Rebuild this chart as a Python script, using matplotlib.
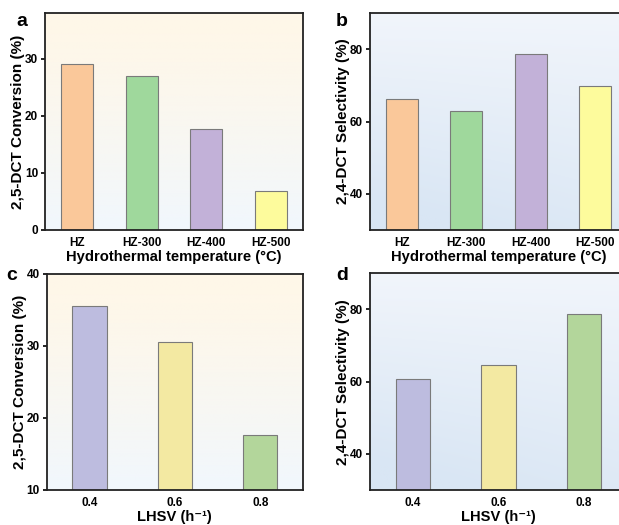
import numpy as np
import matplotlib
matplotlib.use("Agg")
import matplotlib.pyplot as plt
from matplotlib.colors import to_rgb

plt.rcParams['font.family'] = ['Liberation Sans', 'DejaVu Sans']
plt.rcParams['font.weight'] = 'bold'

# ── data ─────────────────────────────────────────
temp_labels = ['HZ', 'HZ-300', 'HZ-400', 'HZ-500']
temp_conv   = [29.1, 26.9, 17.6, 6.8]
temp_sel    = [66.3, 62.8, 78.6, 69.7]
temp_colors = ['#FAC89A', '#9FD89C', '#C2B1D8', '#FDFB9C']

lhsv_labels = ['0.4', '0.6', '0.8']
lhsv_conv   = [35.5, 30.5, 17.7]
lhsv_sel    = [60.7, 64.6, 78.6]
lhsv_colors = ['#BDBCDF', '#F3E9A2', '#B3D69B']

conv_label = '2,5-DCT Conversion (%)'
sel_label  = '2,4-DCT Selectivity (%)'
temp_xlabel = 'Hydrothermal temperature (°C)'
lhsv_xlabel = 'LHSV (h⁻¹)'

warm_bg = ('#FFF7E8', '#F1F7FD')   # top, bottom
cool_bg = ('#F1F5FB', '#D9E6F4')


def gradient(ax, top, bottom, diag=False):
    n = 200
    t = np.linspace(0, 1, n)
    if diag:
        yy, xx = np.meshgrid(t, t, indexing='ij')
        w = np.clip(0.8 * yy + 0.35 * (1 - xx) * yy, 0, 1)
    else:
        w = np.tile(t[:, None], (1, n))
        w = w ** 1.3
    c0, c1 = np.array(to_rgb(top)), np.array(to_rgb(bottom))
    img = c0[None, None, :] * (1 - w[..., None]) + c1[None, None, :] * w[..., None]
    ax.imshow(img, extent=[0, 1, 0, 1], transform=ax.transAxes,
              aspect='auto', zorder=0, origin='upper')


def panel(rect, labels, values, colors, ylim, yticks, ylabel, xlabel,
          width, bg, diag, letter, letter_xy):
    ax = fig.add_axes(rect)
    gradient(ax, *bg, diag=diag)
    x = np.arange(len(labels))
    ax.bar(x, values, width=width, color=colors, edgecolor='#7a7a7a',
           linewidth=0.8, zorder=2)
    ax.set_xlim(-0.5, len(labels) - 0.5)
    ax.set_ylim(*ylim)
    ax.set_yticks(yticks)
    ax.set_xticks(x)
    ax.set_xticklabels(labels)
    ax.tick_params(axis='x', length=0, pad=5, labelsize=8.5)
    ax.tick_params(axis='y', length=3, width=1.2, pad=2, labelsize=8.5)
    ax.set_ylabel(ylabel, fontsize=11, fontweight='bold', labelpad=0)
    ax.set_xlabel(xlabel, fontsize=10.6, fontweight='bold', labelpad=1)
    for s in ax.spines.values():
        s.set_linewidth(1.3)
        s.set_color('#222222')
    fig.text(letter_xy[0], letter_xy[1], letter, fontsize=14,
             fontweight='bold', ha='left', va='center')
    return ax


fig = plt.figure(figsize=(6.19, 5.25), dpi=100)
W, H = 619, 525

panel([45 / W, 1 - 230 / H, 258 / W, 217 / H], temp_labels, temp_conv,
      temp_colors, (0, 38), [0, 10, 20, 30], conv_label, temp_xlabel,
      0.5, warm_bg, False, 'a', (16 / W, 1 - 21 / H))
panel([370 / W, 1 - 230 / H, 257 / W, 217 / H], temp_labels, temp_sel,
      temp_colors, (30, 90), [40, 60, 80], sel_label, temp_xlabel,
      0.5, cool_bg, True, 'b', (336 / W, 1 - 21 / H))
panel([46.7 / W, 1 - 490 / H, 256.3 / W, 216 / H], lhsv_labels, lhsv_conv,
      lhsv_colors, (10, 40), [10, 20, 30, 40], conv_label, lhsv_xlabel,
      0.4, warm_bg, False, 'c', (6 / W, 1 - 276 / H))
panel([370 / W, 1 - 490 / H, 257 / W, 216.7 / H], lhsv_labels, lhsv_sel,
      lhsv_colors, (30, 90), [40, 60, 80], sel_label, lhsv_xlabel,
      0.4, cool_bg, True, 'd', (336 / W, 1 - 276 / H))

fig.savefig('out.png', dpi=100)
